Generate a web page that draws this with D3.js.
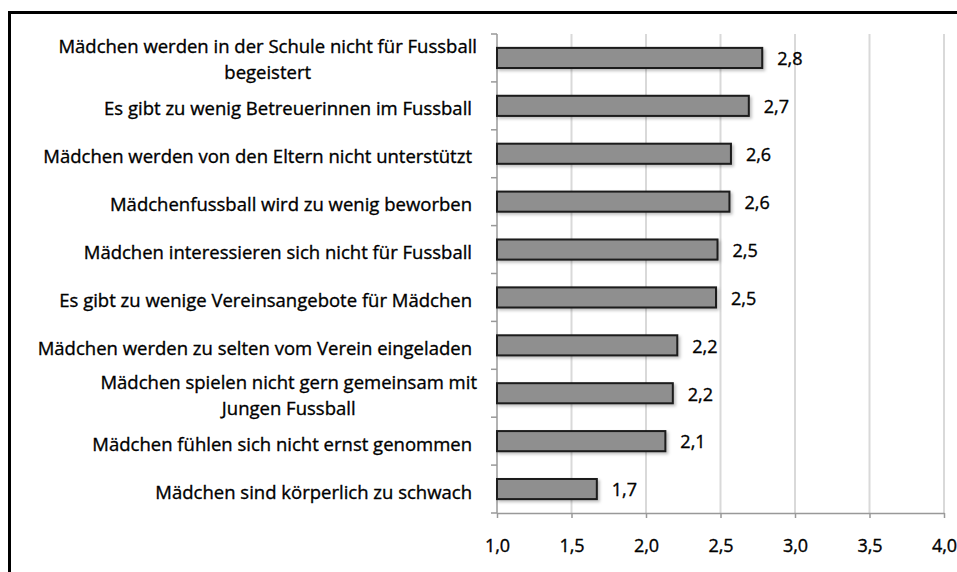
<!DOCTYPE html>
<html>
<head>
<meta charset="utf-8">
<script src="https://cdn.jsdelivr.net/npm/d3@7"></script>
<style>
  body { margin: 0; background: #fff; }
  text { font-family: "Open Sans", sans-serif; fill: #000; stroke: #000; stroke-width: 0.35px; }
</style>
</head>
<body>
<svg></svg>
<script>
var width = 957,
    height = 572;

// categories, top to bottom (lines split where the chart wraps them)
var categories = [
  ["Mädchen werden in der Schule nicht für Fussball", "begeistert"],
  ["Es gibt zu wenig Betreuerinnen im Fussball"],
  ["Mädchen werden von den Eltern nicht unterstützt"],
  ["Mädchenfussball wird zu wenig beworben"],
  ["Mädchen interessieren sich nicht für Fussball"],
  ["Es gibt zu wenige Vereinsangebote für Mädchen"],
  ["Mädchen werden zu selten vom Verein eingeladen"],
  ["Mädchen spielen nicht gern gemeinsam mit", "Jungen Fussball"],
  ["Mädchen fühlen sich nicht ernst genommen"],
  ["Mädchen sind körperlich zu schwach"]
];
var values = [2.78, 2.69, 2.57, 2.56, 2.48, 2.47, 2.21, 2.18, 2.13, 1.67];
var xTicks = [1.0, 1.5, 2.0, 2.5, 3.0, 3.5, 4.0];

var de = d3.formatLocale({decimal: ",", thousands: ".", grouping: [3], currency: ["", " €"]});
var fmt = de.format(".1f");

var svg = d3.select("svg")
    .attr("width", width)
    .attr("height", height);

// frame
svg.append("rect")
  .attr("x", 9.5).attr("y", 12.5)
  .attr("width", 1000).attr("height", 600)
  .attr("fill", "none")
  .attr("stroke", "#000")
  .attr("stroke-width", 3);

var defs = svg.append("defs");
var shadow = defs.append("filter").attr("id", "shadow")
  .attr("x", "-5%").attr("y", "-30%").attr("width", "115%").attr("height", "180%");
shadow.append("feDropShadow")
  .attr("dx", 2).attr("dy", 2).attr("stdDeviation", 1.5)
  .attr("flood-color", "#000").attr("flood-opacity", 0.25);

var x = d3.scaleLinear().domain([1, 4]).range([497, 944]);
var y = d3.scaleBand()
  .domain(d3.range(categories.length))
  .range([34, 513])
  .paddingInner(0.58)
  .paddingOuter(0.29);
var step = y.step();

//gridlines
svg.append("g").selectAll("line")
  .data(xTicks.slice(1))
  .enter().append("line")
    .attr("x1", function(d) { return x(d); })
    .attr("x2", function(d) { return x(d); })
    .attr("y1", 34).attr("y2", 513)
    .attr("stroke", "#d9d9d9")
    .attr("stroke-width", 2);

//bottom axis
var xAxis = svg.append("g")
  .attr("transform", "translate(0,513)")
  .call(d3.axisBottom(x).tickValues(xTicks).tickSize(5).tickSizeOuter(0).tickFormat(fmt));
xAxis.select(".domain").attr("stroke", "#999").attr("stroke-width", 1.5);
xAxis.selectAll(".tick line").attr("stroke", "#999").attr("stroke-width", 1.5);
xAxis.selectAll(".tick text")
  .attr("y", 26)
  .style("font-size", "18px")
  .style("font-family", "Open Sans, sans-serif")
  .attr("fill", "#000");

//left axis: line with ticks at category boundaries
var yAxis = svg.append("g");
yAxis.append("line")
  .attr("x1", 497).attr("x2", 497)
  .attr("y1", 34).attr("y2", 513)
  .attr("stroke", "#999").attr("stroke-width", 1.5);
yAxis.selectAll(".yt")
  .data(d3.range(categories.length + 1))
  .enter().append("line")
    .attr("class", "yt")
    .attr("x1", 491).attr("x2", 497)
    .attr("y1", function(i) { return 34 + i * step; })
    .attr("y2", function(i) { return 34 + i * step; })
    .attr("stroke", "#999").attr("stroke-width", 1.5);

//bars
svg.append("g").selectAll("rect")
  .data(values)
  .enter().append("rect")
    .attr("x", x(1))
    .attr("y", function(d, i) { return y(i); })
    .attr("width", function(d) { return x(d) - x(1); })
    .attr("height", y.bandwidth())
    .attr("fill", "#8f8f8f")
    .attr("stroke", "#1a1a1a")
    .attr("stroke-width", 2)
    .attr("filter", "url(#shadow)");

//value labels
svg.append("g").selectAll("text")
  .data(values)
  .enter().append("text")
    .attr("x", function(d) { return x(d) + 15; })
    .attr("y", function(d, i) { return y(i) + y.bandwidth() / 2 + 1; })
    .attr("dy", "0.35em")
    .style("font-size", "18px")
    .text(function(d) { return fmt(d); });

//category labels
var labels = svg.append("g").selectAll("g")
  .data(categories)
  .enter().append("g");

labels.each(function(lines, i) {
  var g = d3.select(this);
  var cy = y(i) + y.bandwidth() / 2;
  if (lines.length == 1) {
    g.append("text")
      .attr("x", 472)
      .attr("y", cy + 3)
      .attr("dy", "0.35em")
      .attr("text-anchor", "end")
      .style("font-size", "18.5px")
      .text(lines[0]);
  } else {
    var t1 = g.append("text")
      .attr("x", 477)
      .attr("y", cy - 12 + 1)
      .attr("dy", "0.35em")
      .attr("text-anchor", "end")
      .style("font-size", "18.5px")
      .text(lines[0]);
    var w = t1.node().getComputedTextLength();
    g.append("text")
      .attr("x", 477 - w / 2)
      .attr("y", cy + 14 + 1)
      .attr("dy", "0.35em")
      .attr("text-anchor", "middle")
      .style("font-size", "18.5px")
      .text(lines[1]);
  }
});
</script>
</body>
</html>
